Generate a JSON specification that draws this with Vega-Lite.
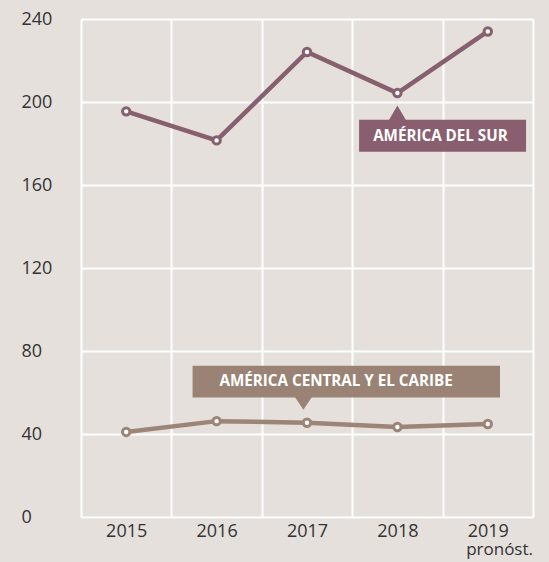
{
  "$schema": "https://vega.github.io/schema/vega-lite/v6.json",
  "width": 452,
  "height": 498,
  "autosize": "none",
  "padding": {"left": 81, "top": 19, "right": 16, "bottom": 45},
  "background": "#e5e0dc",
  "config": {
    "view": {"stroke": null},
    "font": "Open Sans"
  },
  "datasets": {
    "series": [
      {"year": 2015, "value": 195.5, "region": "América del Sur"},
      {"year": 2016, "value": 181.5, "region": "América del Sur"},
      {"year": 2017, "value": 224.1, "region": "América del Sur"},
      {"year": 2018, "value": 204.3, "region": "América del Sur"},
      {"year": 2019, "value": 234.0, "region": "América del Sur"},
      {"year": 2015, "value": 41.0, "region": "América Central y el Caribe"},
      {"year": 2016, "value": 46.2, "region": "América Central y el Caribe"},
      {"year": 2017, "value": 45.4, "region": "América Central y el Caribe"},
      {"year": 2018, "value": 43.4, "region": "América Central y el Caribe"},
      {"year": 2019, "value": 44.8, "region": "América Central y el Caribe"}
    ],
    "boxes": [
      {"x1": 2017.576, "x2": 2019.423, "y1": 176.0, "y2": 191.5, "region": "América del Sur", "label": "AMÉRICA DEL SUR", "tx": 2018.476, "ty": 183.8, "px": 2018.0, "py": 191.5, "dir": "up"},
      {"x1": 2015.734, "x2": 2019.135, "y1": 57.6, "y2": 72.9, "region": "América Central y el Caribe", "label": "AMÉRICA CENTRAL Y EL CARIBE", "tx": 2017.322, "ty": 65.7, "px": 2016.96, "py": 57.6, "dir": "down"}
    ],
    "notes": [
      {"x": 2019.5, "y": -15.9, "text": "pronóst."}
    ]
  },
  "layer": [
    {
      "data": {"name": "series"},
      "mark": {"type": "line", "strokeWidth": 4.5},
      "encoding": {
        "x": {
          "field": "year", "type": "quantitative",
          "scale": {"domain": [2014.5, 2019.5], "nice": false, "zero": false},
          "axis": {
            "title": null,
            "values": [2014.5, 2015, 2015.5, 2016, 2016.5, 2017, 2017.5, 2018, 2018.5, 2019, 2019.5],
            "labelExpr": "datum.value % 1 == 0 ? format(datum.value, 'd') : ''",
            "grid": true,
            "gridColor": "#ffffff",
            "gridWidth": 2,
            "gridOpacity": {"condition": {"test": "datum.value % 1 == 0", "value": 0}, "value": 1},
            "domain": false,
            "ticks": false,
            "labelFontSize": 18,
            "labelColor": "#333333",
            "labelPadding": 14,
            "labelBaseline": "middle",
            "labelFlush": false,
            "labelOverlap": false
          }
        },
        "y": {
          "field": "value", "type": "quantitative",
          "scale": {"domain": [0, 240], "nice": false},
          "axis": {
            "title": null,
            "values": [0, 40, 80, 120, 160, 200, 240],
            "grid": true,
            "gridColor": "#ffffff",
            "gridWidth": 2,
            "gridOpacity": 1,
            "domain": false,
            "ticks": false,
            "labelAlign": "left",
            "labelPadding": 60,
            "labelFontSize": 18,
            "labelColor": "#333333",
            "labelBaseline": "middle"
          }
        },
        "color": {
          "field": "region", "type": "nominal", "legend": null,
          "scale": {"domain": ["América del Sur", "América Central y el Caribe"], "range": ["#87606f", "#9c8476"]}
        },
        "detail": {"field": "region"}
      }
    },
    {
      "data": {"name": "series"},
      "mark": {"type": "point", "filled": false, "fill": "#ffffff", "fillOpacity": 1, "strokeWidth": 3, "size": 55, "opacity": 1},
      "encoding": {
        "x": {"field": "year", "type": "quantitative"},
        "y": {"field": "value", "type": "quantitative"},
        "stroke": {"field": "region", "type": "nominal", "legend": null,
          "scale": {"domain": ["América del Sur", "América Central y el Caribe"], "range": ["#87606f", "#9c8476"]}}
      }
    },
    {
      "data": {"name": "boxes"},
      "mark": {"type": "rect"},
      "encoding": {
        "x": {"field": "x1", "type": "quantitative"},
        "x2": {"field": "x2"},
        "y": {"field": "y1", "type": "quantitative"},
        "y2": {"field": "y2"},
        "fill": {"field": "region", "type": "nominal", "legend": null,
          "scale": {"domain": ["América del Sur", "América Central y el Caribe"], "range": ["#895f70", "#9a8375"]}}
      }
    },
    {
      "data": {"name": "boxes"},
      "transform": [{"filter": "datum.dir == 'up'"}],
      "mark": {"type": "point", "shape": "M-1,0.05L0,-1.65L1,0.05Z", "filled": true, "size": 289, "opacity": 1, "color": "#895f70"},
      "encoding": {
        "x": {"field": "px", "type": "quantitative"},
        "y": {"field": "py", "type": "quantitative"}
      }
    },
    {
      "data": {"name": "boxes"},
      "transform": [{"filter": "datum.dir == 'down'"}],
      "mark": {"type": "point", "shape": "M-1,-0.05L0,1.45L1,-0.05Z", "filled": true, "size": 289, "opacity": 1, "color": "#9a8375"},
      "encoding": {
        "x": {"field": "px", "type": "quantitative"},
        "y": {"field": "py", "type": "quantitative"}
      }
    },
    {
      "data": {"name": "boxes"},
      "mark": {"type": "text", "font": "Open Sans", "fontWeight": "bold", "fontSize": 15.2, "color": "#ffffff", "align": "center", "baseline": "middle"},
      "encoding": {
        "x": {"field": "tx", "type": "quantitative"},
        "y": {"field": "ty", "type": "quantitative"},
        "text": {"field": "label"}
      }
    },
    {
      "data": {"name": "notes"},
      "mark": {"type": "text", "font": "Open Sans", "fontSize": 17, "color": "#333333", "align": "right", "baseline": "middle", "clip": false},
      "encoding": {
        "x": {"field": "x", "type": "quantitative"},
        "y": {"field": "y", "type": "quantitative"},
        "text": {"field": "text"}
      }
    }
  ]
}
